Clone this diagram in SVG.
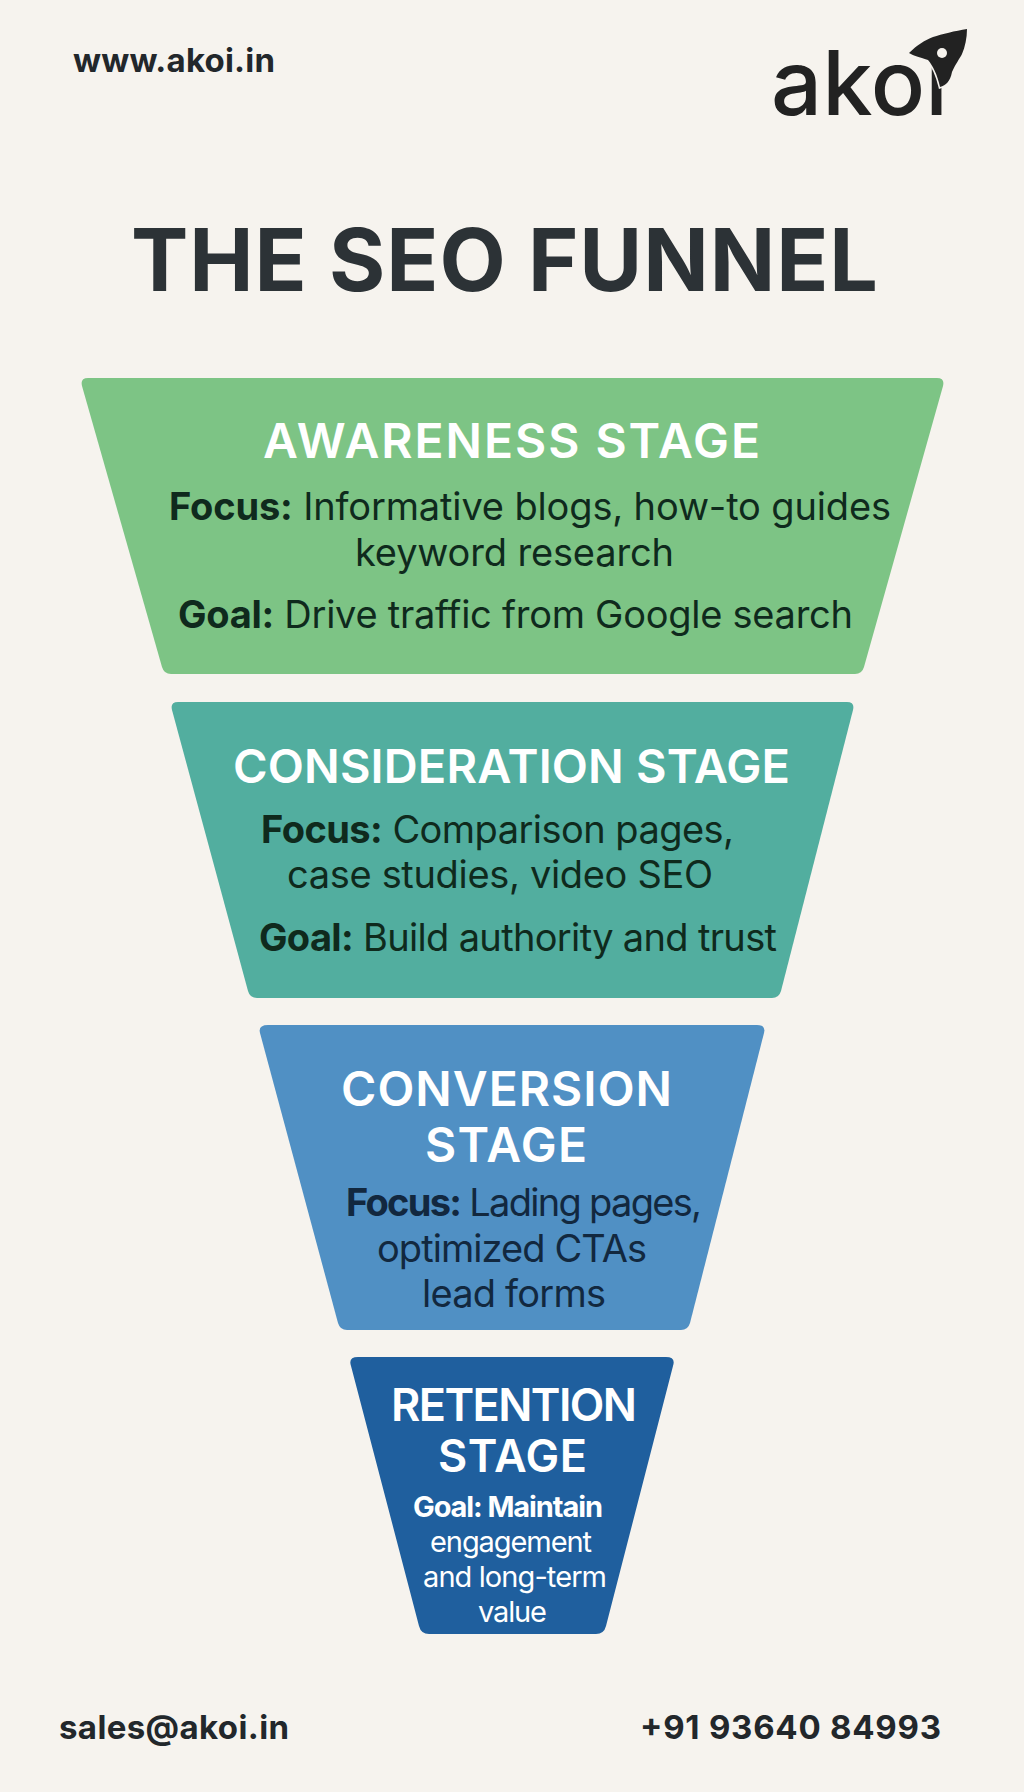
<svg xmlns="http://www.w3.org/2000/svg" width="1024" height="1792" viewBox="0 0 1024 1792">
<style>
text{font-family:Inter,"Liberation Sans",sans-serif;white-space:pre}
.h{font-weight:600;fill:#fff;font-size:48px}
.d{font-size:38px;font-weight:400;fill:#0f2a1d}
.c{fill:#12283f}
.w{fill:#fff;font-size:29px;font-weight:400}
.b{font-weight:700}
.k{font-weight:700;fill:#22272b;font-size:33px}
</style>
<rect width="1024" height="1792" fill="#f6f3ee"/>
<g id="header">
<text class="k" x="73" y="72" textLength="202">www.akoi.in</text>
<g id="logo">
<text x="771" y="115" font-size="90" font-weight="500" fill="#222222" textLength="177">akoi</text>
<path d="M967 29C955 31 942 34 933 37C925 40 917 45 909 53C914 56 919 57 928 60C933 66 937 74 940 87C946 85 950 82 952 72C955 65 960 58 962 54C965 47 967 38 967 29Z" fill="#222222" stroke="#f6f3ee" stroke-width="3" paint-order="stroke"/>
<circle cx="942" cy="53" r="5" fill="#f6f3ee"/>
</g>
</g>
<text id="title" x="131" y="291" font-size="86" font-weight="700" fill="#2c3236" textLength="747">THE SEO FUNNEL</text>
<g id="awareness">
<path d="M88 378H937Q945 378 943 386L864 667Q862 674 855 674H171Q164 674 162 667L82 386Q80 378 88 378Z" fill="#7dc485"/>
<text class="h" x="263" y="458" textLength="497">AWARENESS STAGE</text>
<text class="d" x="169" y="520" textLength="722"><tspan class="b">Focus:</tspan> Informative blogs, how-to guides</text>
<text class="d" x="355" y="566" textLength="319">keyword research</text>
<text class="d" x="178" y="628" textLength="675"><tspan class="b">Goal:</tspan> Drive traffic from Google search</text>
</g>
<g id="consideration">
<path d="M178 702H847Q855 702 853 710L781 991Q779 998 772 998H257Q250 998 248 991L172 710Q170 702 178 702Z" fill="#52ae9f"/>
<text class="h" x="233" y="783" textLength="557" style="font-size:47px">CONSIDERATION STAGE</text>
<text class="d" x="261" y="843" textLength="473"><tspan class="b">Focus:</tspan> Comparison pages,</text>
<text class="d" x="287" y="888" textLength="426">case studies, video SEO</text>
<text class="d" x="259" y="951" textLength="518"><tspan class="b">Goal:</tspan> Build authority and trust</text>
</g>
<g id="conversion">
<path d="M268 1025H757Q766 1025 764 1033L690 1323Q688 1330 681 1330H347Q340 1330 338 1323L260 1033Q258 1025 268 1025Z" fill="#5090c4"/>
<text class="h" x="341" y="1106" textLength="331">CONVERSION</text>
<text class="h" x="425" y="1162" textLength="162">STAGE</text>
<text class="d c" x="346" y="1216" textLength="356"><tspan class="b">Focus:</tspan> Lading pages,</text>
<text class="d c" x="377" y="1262" textLength="270">optimized CTAs</text>
<text class="d c" x="422" y="1307" textLength="184">lead forms</text>
</g>
<g id="retention">
<path d="M358 1357H666Q676 1357 673 1366L606 1626Q604 1634 596 1634H429Q421 1634 419 1626L351 1366Q348 1357 358 1357Z" fill="#1f5f9e"/>
<text class="h" x="391" y="1421" textLength="246" style="font-size:45px">RETENTION</text>
<text class="h" x="438" y="1472" textLength="149" style="font-size:45px">STAGE</text>
<text class="w b" x="413" y="1517" textLength="190">Goal: Maintain</text>
<text class="w" x="430" y="1552" textLength="162">engagement</text>
<text class="w" x="423" y="1587" textLength="184">and long-term</text>
<text class="w" x="478" y="1622" textLength="69">value</text>
</g>
<g id="footer">
<text class="k" x="59" y="1739" textLength="230">sales@akoi.in</text>
<text class="k" x="640" y="1739" textLength="301">+91 93640 84993</text>
</g>
</svg>
